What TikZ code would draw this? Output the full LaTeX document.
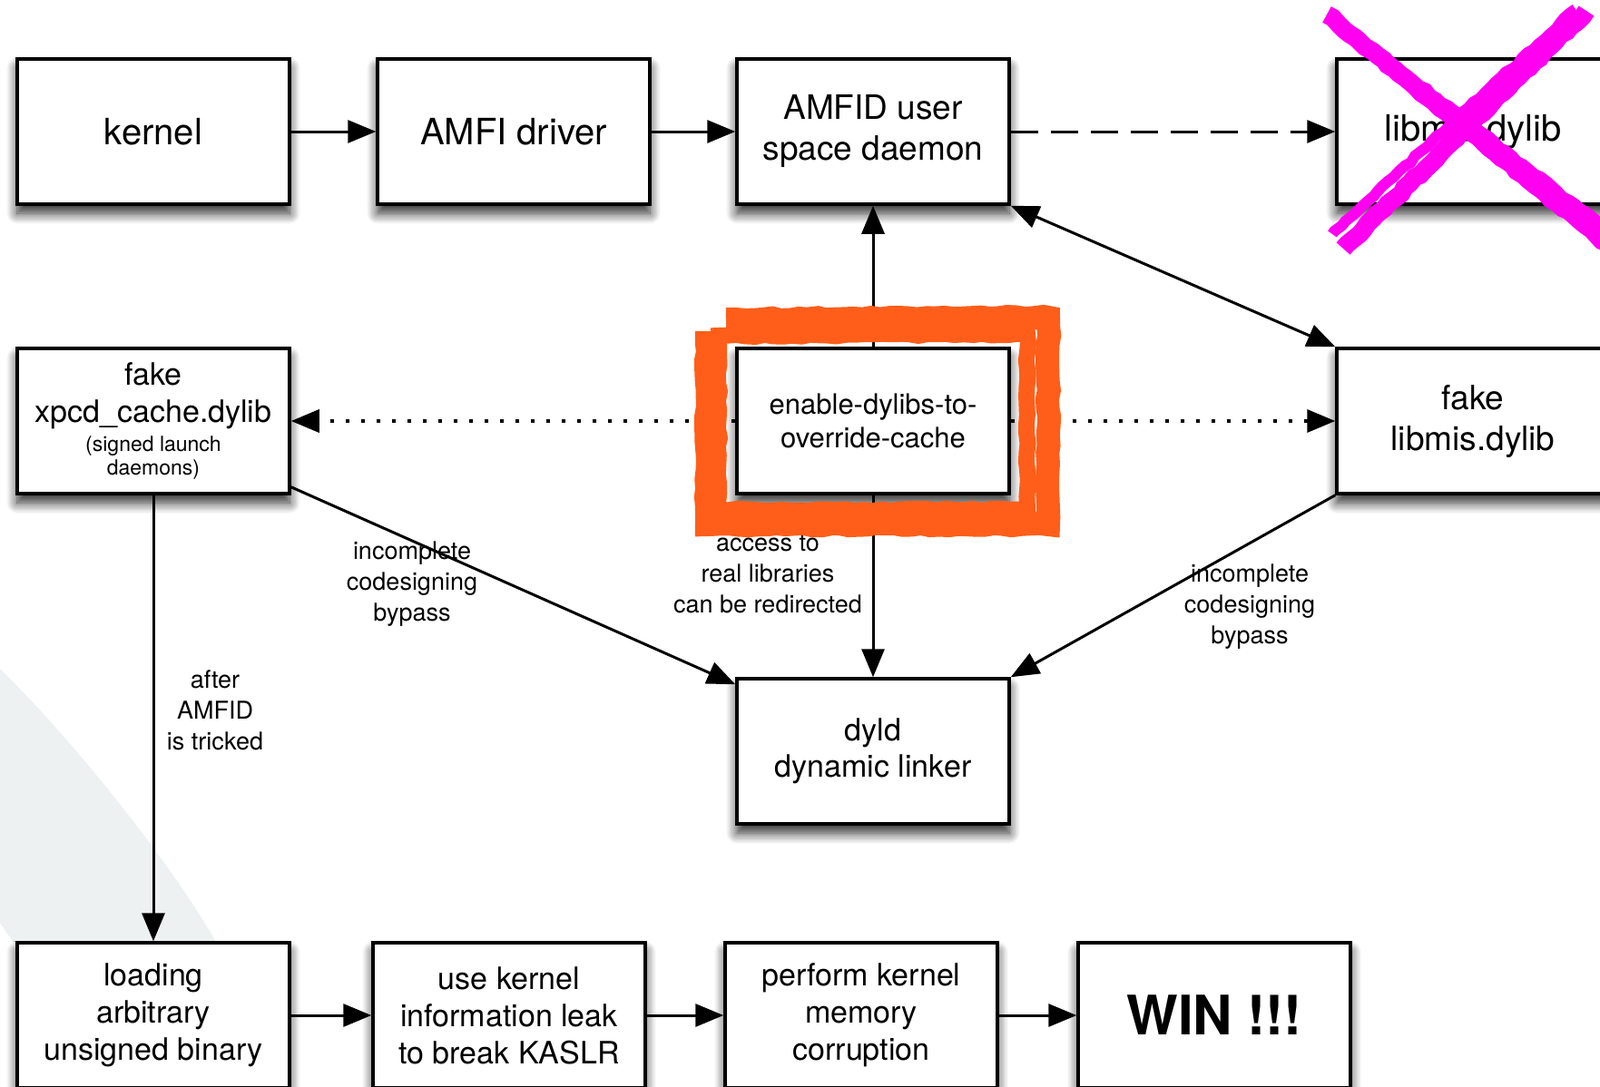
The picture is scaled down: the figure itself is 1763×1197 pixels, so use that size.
\documentclass[tikz,border=0pt]{standalone}
\usepackage{fontspec}
\setmainfont{TeX Gyre Heros}
\usetikzlibrary{arrows.meta,shadows.blur,decorations.pathmorphing}
\definecolor{scrawl}{RGB}{255,94,26}
\definecolor{crossout}{RGB}{255,0,240}
\definecolor{bgarc}{RGB}{238,241,242}

\begin{document}
\begin{tikzpicture}[x=1pt,y=-1pt,
  box/.style={shape=rectangle,draw=black,line width=3.5pt,fill=white,minimum width=300pt,minimum height=160pt,align=center,inner sep=0pt,font=\fontsize{34}{41}\selectfont,blur shadow={shadow xshift=0pt,shadow yshift=-10pt,shadow blur radius=12pt,shadow blur steps=10,shadow opacity=85}},
  boxL/.style={box,font=\fontsize{40}{46}\selectfont},
  boxM/.style={box,font=\fontsize{37}{45}\selectfont},
  lbl/.style={align=center,inner sep=0pt,font=\fontsize{27}{34}\selectfont},
  arr/.style={line width=3pt,-{Triangle[length=31pt,width=25pt]}},
  arrD/.style={arr,dash pattern=on 30pt off 14pt},
  arrP/.style={arr,line width=3.5pt,dash pattern=on 4pt off 13pt},
  arrB/.style={arr,{Triangle[length=31pt,width=25pt]}-{Triangle[length=31pt,width=25pt]}},
  scribble/.style={draw=scrawl,line join=miter,decorate,decoration={random steps,segment length=10pt,amplitude=1.2pt}},
  strike/.style={draw=crossout,line cap=butt,decorate,decoration={random steps,segment length=8pt,amplitude=1.5pt}}]
\def\ya{145};
\def\yb{464};
\def\yc{828};
\def\yd{1119};
\def\xa{169};
\def\xb{566};
\def\xc{962};
\def\xd{1623};

\useasboundingbox (0,0) rectangle (1763,1197);
\fill[bgarc] (0,737) .. controls (85,820) and (195,960) .. (242,1045) -- (19,1045) -- (0,1017) -- cycle;

% top row
\node[boxL] (kernel) at (\xa,\ya) {kernel};
\node[boxL] (amfi) at (\xb,\ya) {AMFI driver};
\node[boxM] (amfid) at (\xc,\ya) {AMFID user\\space daemon};
\node[boxL] (libmis) at (\xd,\ya) {libmis.dylib};

% middle row
\node[box] (xpcd) at (\xa,\yb) {fake\\xpcd\_cache.dylib\\[-9pt]{\fontsize{23}{26}\selectfont(signed launch}\\[-15pt]{\fontsize{23}{26}\selectfont daemons)}};
\node[box,font=\fontsize{31}{37}\selectfont] (enable) at (\xc,\yb) {enable-dylibs-to-\\override-cache};
\node[boxM] (fakelib) at (\xd,\yb) {fake\\libmis.dylib};
\node[box,font=\fontsize{34}{40}\selectfont] (dyld) at (\xc,\yc) {dyld\\dynamic linker};

% bottom row
\node[box] (loading) at (\xa,\yd) {loading\\arbitrary\\unsigned binary};
\node[box] (leak) at (561,\yd) {use kernel\\information leak\\to break KASLR};
\node[box] (corrupt) at (949,\yd) {perform kernel\\memory\\corruption};
\node[box,font=\fontsize{60}{70}\selectfont\bfseries] (win) at (1338,\yd) {WIN !!!};

\draw[arr] (kernel) -- (amfi);
\draw[arr] (amfi) -- (amfid);
\draw[arrD] (amfid) -- (libmis);
\draw[arr] (enable) -- (amfid);
\draw[arrB] (amfid.south east) -- (fakelib.north west);
\draw[arrP] (enable) -- (xpcd);
\draw[arrP] (enable) -- (fakelib);
\draw[arr] (enable) -- (dyld);
\draw[arr] ([yshift=9pt]xpcd.south east) -- ([yshift=-8pt]dyld.north west);
\draw[arr] (fakelib.south west) -- (dyld.north east);
\draw[arr] (xpcd) -- (loading);
\draw[arr] (loading) -- (leak);
\draw[arr] (leak) -- (corrupt);
\draw[arr] (corrupt) -- (win);

\node[lbl] (lblL) at (454,644) {incomplete\\codesigning\\bypass};
\node[lbl] (lblM) at (846,633) {access to\\real libraries\\can be redirected};
\node[lbl] (lblR) at (1377,669) {incomplete\\codesigning\\bypass};
\node[lbl] (lblA) at (237,783) {after\\AMFID\\is tricked};

% scribbled frame and cross
\draw[scribble,line width=26pt] (800,352) -- (1155,350) -- (1155,578) -- (779,578) -- (779,365);
\draw[scribble,line width=18pt] (792,370) -- (1132,368) -- (1132,562) -- (792,562) -- cycle;
\draw[strike,line width=20pt] (1462,16) -- (1775,272);
\draw[strike,line width=12pt] (1482,30) -- (1772,254);
\draw[strike,line width=20pt] (1748,12) -- (1480,274);
\draw[strike,line width=12pt] (1736,10) -- (1468,258);
\end{tikzpicture}
\end{document}
